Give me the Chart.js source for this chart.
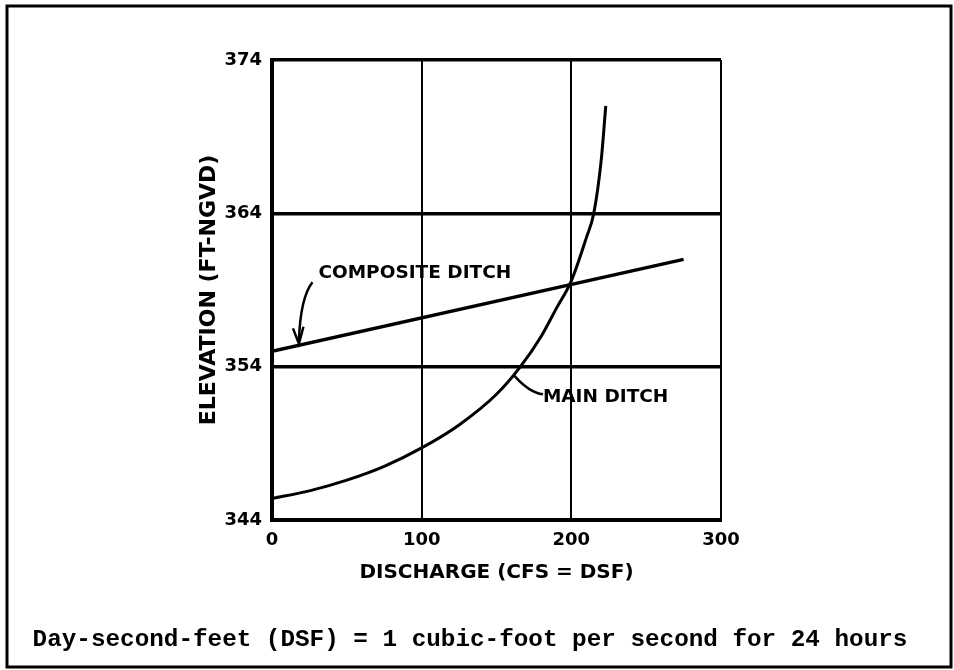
<!DOCTYPE html>
<html>
<head>
<meta charset="utf-8">
<script src="https://cdn.jsdelivr.net/npm/chart.js@4.4.1/dist/chart.umd.min.js"></script>
<style>
  html, body { margin: 0; padding: 0; background: #fff; }
  #wrap { width: 954px; height: 670px; position: relative; }
</style>
</head>
<body>
<div id="wrap"><canvas id="ditchChart" width="954" height="670"></canvas></div>
<script>
    // discharge (cfs) vs elevation (ft NGVD)
    const compositeQ = [0, 275];
    const compositeEl = [355.0, 361.0];

    const mainQ = [0, 25, 50, 75, 100, 125, 150, 166, 180, 190, 200, 210, 215, 220, 223];
    const mainEl = [345.4, 345.9, 346.6, 347.5, 348.7, 350.2, 352.2, 354.0, 356.0, 357.8, 359.6, 362.4, 364.0, 367.5, 371.0];

    const xTicks = [0, 100, 200, 300];
    const yTicks = [344, 354, 364, 374];

    const footnote = 'Day-second-feet (DSF) = 1 cubic-foot per second for 24 hours';

    const toPts = (xs, ys) => xs.map((x, i) => ({ x: x, y: ys[i] }));

    const boldFont = "'DejaVu Sans', 'Liberation Sans', Arial, sans-serif";

    // labels + leaders and outer frame
    const extras = {
        id: 'extras',
        beforeDraw(chart) {
            const c = chart.ctx;
            c.save();
            c.fillStyle = '#fff';
            c.fillRect(0, 0, chart.width, chart.height);
            c.restore();
        },
        afterDraw(chart) {
            const c = chart.ctx;
            const xs = chart.scales.x, ys = chart.scales.y;
            const px = v => xs.getPixelForValue(v), py = v => ys.getPixelForValue(v);
            c.save();
            c.fillStyle = '#000';
            c.strokeStyle = '#000';
            c.font = "bold 18.5px " + boldFont;
            c.textBaseline = 'middle';
            c.textAlign = 'left';

            // composite ditch
            c.fillText('COMPOSITE DITCH', px(31), py(360.1));
            c.lineWidth = 2.5;
            c.beginPath();
            c.moveTo(px(27), py(359.5));
            c.quadraticCurveTo(px(19), py(358.5), px(18), py(355.7));
            c.stroke();
            c.beginPath();
            c.moveTo(px(14), py(356.5));
            c.lineTo(px(18), py(355.5));
            c.lineTo(px(21), py(356.6));
            c.stroke();

            // main ditch
            c.fillText('MAIN DITCH', px(181), py(352.0));
            c.beginPath();
            c.moveTo(px(181), py(352.2));
            c.quadraticCurveTo(px(172), py(352.3), px(162), py(353.4));
            c.stroke();

            // footnote
            c.font = "bold 24.3px 'Liberation Mono', 'Courier New', monospace";
            c.textAlign = 'center';
            c.fillText(footnote, 470, 640);

            // outer frame
            c.lineWidth = 3;
            c.strokeRect(7, 6, 944, 661);
            c.restore();
        }
    };

    const ctx = document.getElementById('ditchChart').getContext('2d');
    const ditchChart = new Chart(ctx, {
        type: 'line',
        data: {
            datasets: [
                {
                    label: 'Composite Ditch',
                    data: toPts(compositeQ, compositeEl),
                    borderColor: '#000',
                    borderWidth: 3.5,
                    pointRadius: 0,
                    tension: 0
                },
                {
                    label: 'Main Ditch',
                    data: toPts(mainQ, mainEl),
                    borderColor: '#000',
                    borderWidth: 3,
                    pointRadius: 0,
                    cubicInterpolationMode: 'monotone'
                }
            ]
        },
        options: {
            responsive: false,
            animation: false,
            layout: { padding: { left: 190, right: 233, top: 60, bottom: 85 } },
            plugins: {
                legend: { display: false },
                tooltip: { enabled: false }
            },
            scales: {
                x: {
                    type: 'linear',
                    min: 0,
                    max: 300,
                    afterBuildTicks: s => { s.ticks = xTicks.map(v => ({ value: v })); },
                    afterFit: s => { s.height = 65; },
                    grid: { color: '#000', lineWidth: 2, drawTicks: false },
                    border: { color: '#000', width: 4 },
                    ticks: { color: '#000', padding: 10, font: { family: boldFont, size: 18, weight: 'bold' } },
                    title: {
                        display: true,
                        text: 'DISCHARGE (CFS = DSF)',
                        color: '#000',
                        padding: { top: 8, bottom: 0 },
                        font: { family: boldFont, size: 20, weight: 'bold' }
                    }
                },
                y: {
                    type: 'linear',
                    min: 344,
                    max: 374,
                    afterBuildTicks: s => { s.ticks = yTicks.map(v => ({ value: v })); },
                    afterFit: s => { s.width = 82; },
                    grid: { color: '#000', lineWidth: 3.5, drawTicks: false },
                    border: { color: '#000', width: 4 },
                    ticks: { color: '#000', padding: 10, font: { family: boldFont, size: 18, weight: 'bold' } },
                    title: {
                        display: true,
                        text: 'ELEVATION (FT-NGVD)',
                        color: '#000',
                        padding: { top: 6, bottom: 0 },
                        font: { family: boldFont, size: 22, weight: 'bold' }
                    }
                }
            }
        },
        plugins: [extras]
    });
</script>
</body>
</html>
